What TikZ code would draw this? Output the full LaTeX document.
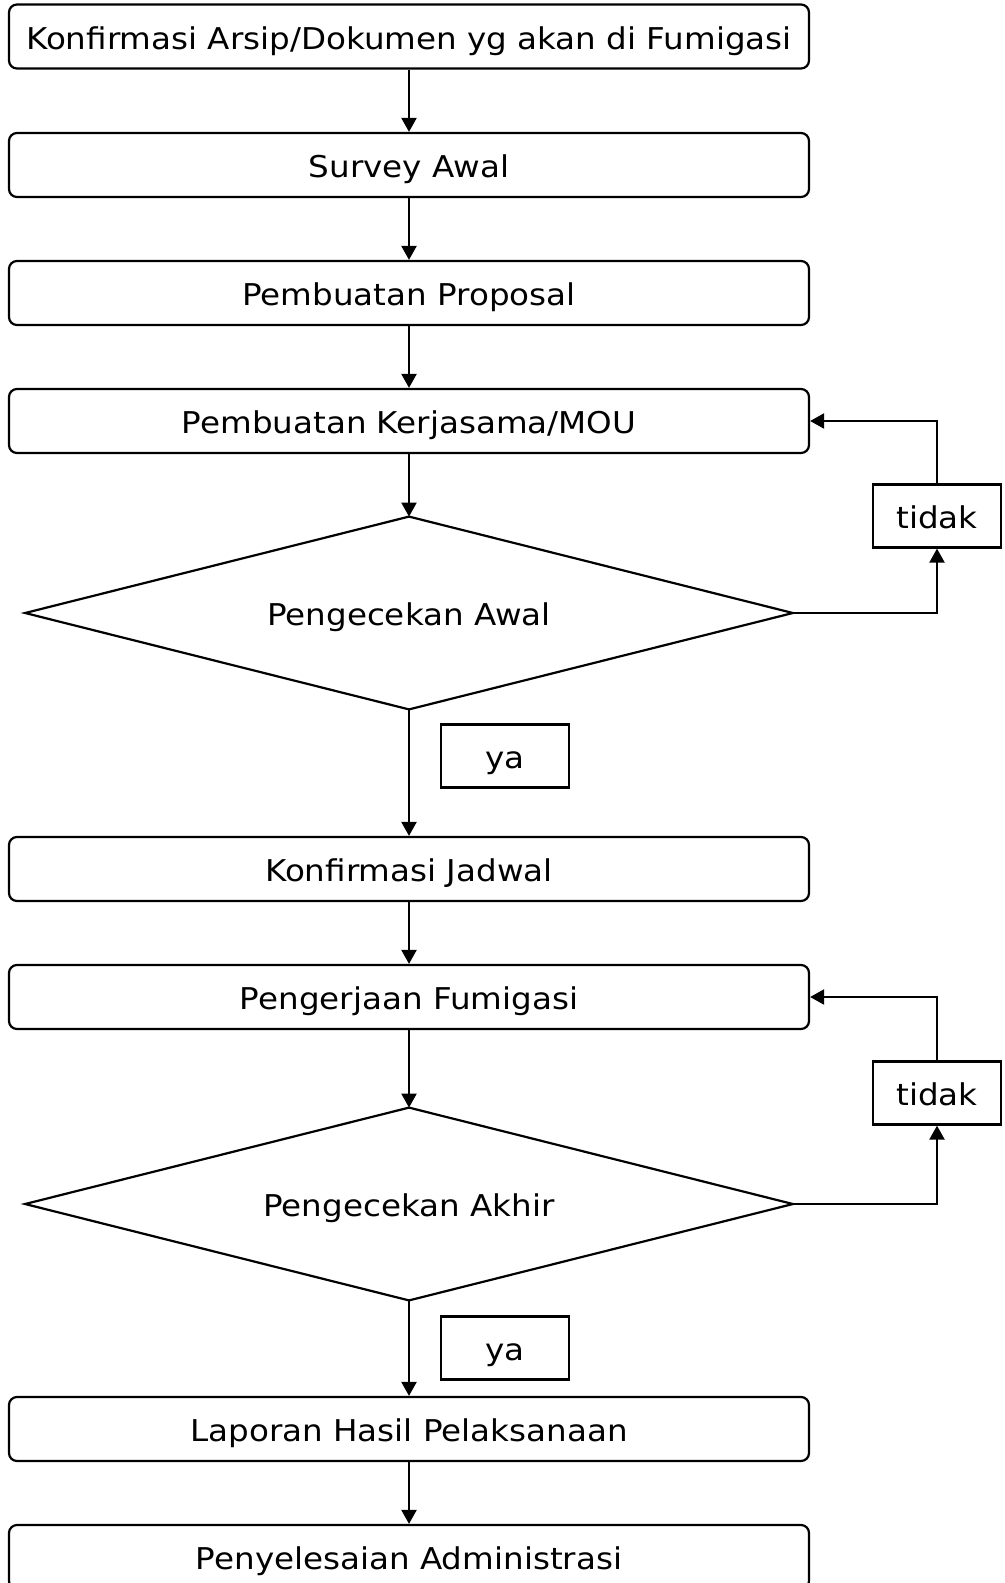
\documentclass[tikz,border=0pt]{standalone}
\usepackage{fontspec}
\setmainfont{DejaVu Sans}[FakeStretch=1.085]
\usetikzlibrary{arrows.meta}
\begin{document}
\begin{tikzpicture}[x=0.5pt,y=-0.5pt,
  every node/.style={font=\fontsize{15}{18}\selectfont, inner sep=0pt,
    text height=12.6pt, text depth=0pt},
  stepbox/.style={draw, line width=1.1pt, rounded corners=4pt,
    minimum width=400pt, minimum height=32pt},
  decide/.style={minimum width=383.5pt, minimum height=96pt},
  outline/.style={line width=1.1pt},
  answer/.style={draw, line width=1.1pt, minimum width=64pt, minimum height=31.5pt},
  flow/.style={line width=1.1pt, -{Triangle[length=7pt,width=7.5pt]}}]
\useasboundingbox (0,0) rectangle (1005,1583);

% main column of process steps
\node[stepbox] (s1) at (409,36.5) {Konfirmasi Arsip/Dokumen yg akan di Fumigasi};
\node[stepbox] (s2) at (409,165)  {Survey Awal};
\node[stepbox] (s3) at (409,293)  {Pembuatan Proposal};
\node[stepbox] (s4) at (409,421)  {Pembuatan Kerjasama/MOU};
\node[decide]  (d1) at (409,613)  {Pengecekan Awal};
\node[stepbox] (s5) at (409,869)  {Konfirmasi Jadwal};
\node[stepbox] (s6) at (409,997)  {Pengerjaan Fumigasi};
\node[decide]  (d2) at (409,1204) {Pengecekan Akhir};
\node[stepbox] (s7) at (409,1429) {Laporan Hasil Pelaksanaan};
\node[stepbox] (s8) at (409,1557) {Penyelesaian Administrasi};

% diamond outlines of the two checks
\draw[outline] (d1.north) -- (d1.east) -- (d1.south) -- (d1.west) -- cycle;
\draw[outline] (d2.north) -- (d2.east) -- (d2.south) -- (d2.west) -- cycle;

% decision labels
\node[answer] (ya1) at (505,756)  {ya};
\node[answer] (ya2) at (505,1348) {ya};
\node[answer] (no1) at (937,516)  {tidak};
\node[answer] (no2) at (937,1093) {tidak};

% straight flow
\draw[flow] (s1) -- (s2);
\draw[flow] (s2) -- (s3);
\draw[flow] (s3) -- (s4);
\draw[flow] (s4) -- (d1.north);
\draw[flow] (d1.south) -- (s5);
\draw[flow] (s5) -- (s6);
\draw[flow] (s6) -- (d2.north);
\draw[flow] (d2.south) -- (s7);
\draw[flow] (s7) -- (s8);

% return loops for "tidak"
\draw[flow] (d1.east) -| (no1.south);
\draw[flow] (no1.north) |- (s4.east);
\draw[flow] (d2.east) -| (no2.south);
\draw[flow] (no2.north) |- (s6.east);
\end{tikzpicture}
\end{document}
